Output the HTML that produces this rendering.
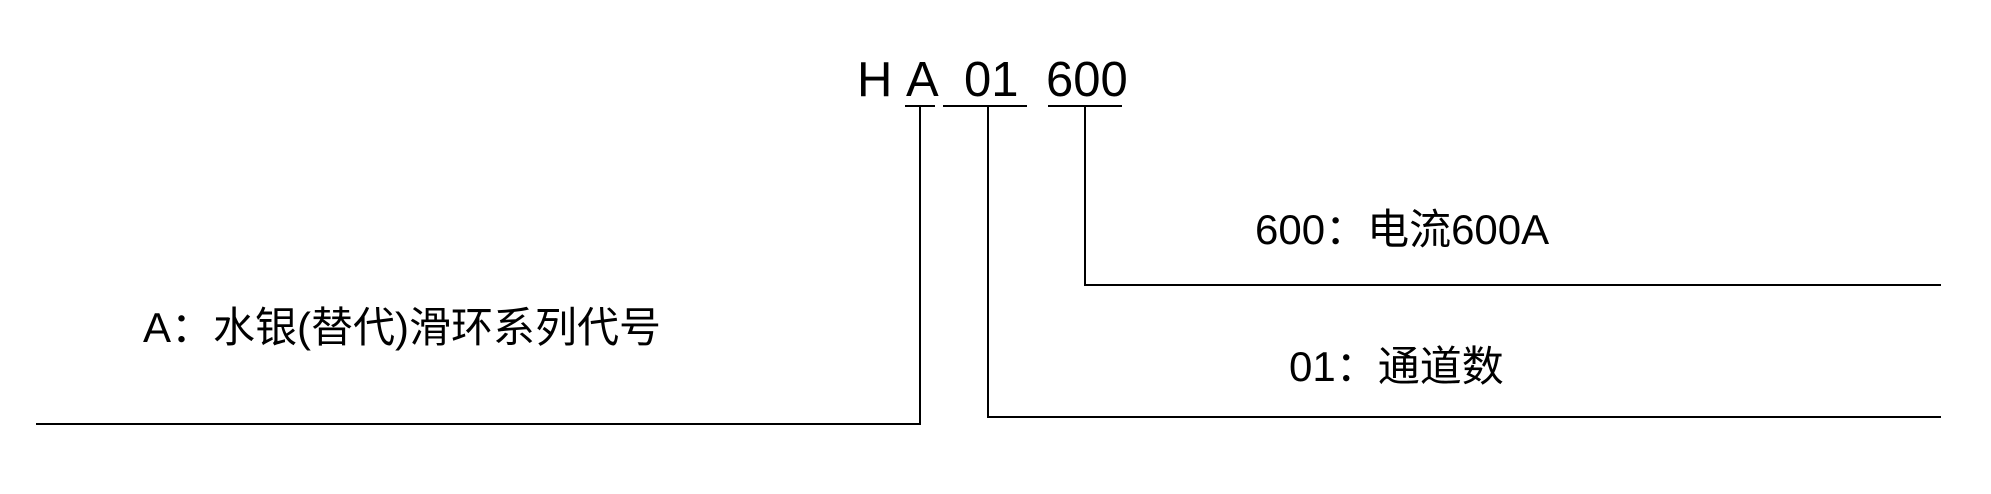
<!DOCTYPE html>
<html><head><meta charset="utf-8"><style>
html,body{margin:0;padding:0;background:#fff;}
svg text{font-family:"Liberation Sans","Noto Sans CJK SC",sans-serif;fill:#000;}
</style></head><body>
<svg width="1991" height="489" viewBox="0 0 1991 489" xmlns="http://www.w3.org/2000/svg">
<g stroke="#000" stroke-width="2" fill="none">
<line x1="905" y1="106" x2="935" y2="106"/>
<line x1="943" y1="106" x2="1027" y2="106"/>
<line x1="1048" y1="106" x2="1122" y2="106"/>
<polyline points="920,106 920,424 36,424"/>
<polyline points="988,106 988,417 1941,417"/>
<polyline points="1085,106 1085,285 1941,285"/>
</g>
<text x="857" y="96" font-size="49">H</text>
<text x="906" y="96" font-size="49">A</text>
<text x="964" y="96" font-size="49">01</text>
<text x="1046" y="96" font-size="49">600</text>
<text x="1255" y="244" font-size="42">600：电流600A</text>
<text x="1289" y="381" font-size="42">01：通道数</text>
<text x="143" y="342" font-size="42">A：水银(替代)滑环系列代号</text>
</svg>
</body></html>
